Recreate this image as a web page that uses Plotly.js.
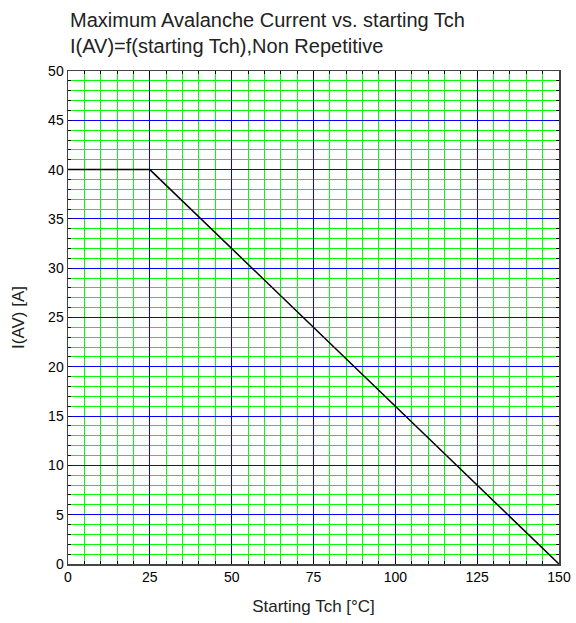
<!DOCTYPE html>
<html>
<head>
<meta charset="utf-8">
<script src="https://cdn.plot.ly/plotly-3.0.1.min.js"></script>
<style>html,body{margin:0;padding:0;background:#fff;}#chart{width:576px;height:623px;}</style>
</head>
<body>
<div id="chart"></div>
<script>
const tch = [0, 25, 150];
const iav = [40, 40, 0];

const trace = {
  x: tch, y: iav, type: 'scatter', mode: 'lines',
  line: {color: '#000000', width: 1.5}, hoverinfo: 'skip'
};

const fontFam = '"Liberation Sans", Arial, sans-serif';
const layout = {
  width: 576, height: 623,
  margin: {l: 68, r: 17, t: 71, b: 59},
  paper_bgcolor: '#ffffff', plot_bgcolor: '#ffffff',
  showlegend: false,
  font: {family: fontFam, color: '#000000'},
  title: {
    text: 'Maximum Avalanche Current vs. starting Tch<br>I(AV)=f(starting Tch),Non Repetitive',
    font: {family: fontFam, size: 20, color: '#222222'},
    x: 70/576, xanchor: 'left', xref: 'container',
    y: 1 - 27/623, yanchor: 'middle', yref: 'container'
  },
  xaxis: {
    range: [0, 150], dtick: 25, tick0: 0,
    showgrid: true, gridcolor: '#0000ff', gridwidth: 1,
    minor: {dtick: 5, tick0: 0, showgrid: true, gridcolor: '#00ff00', gridwidth: 1, ticks: 'inside', ticklen: 3, tickcolor: '#000'},
    ticks: 'inside', ticklen: 3, tickcolor: '#000',
    showline: true, linecolor: '#444444', linewidth: 1.5, mirror: 'ticks',
    zeroline: false,
    tickfont: {family: fontFam, size: 14, color: '#000'},
    title: {text: 'Starting Tch [°C]', font: {family: fontFam, size: 17, color: '#222'}, standoff: 16}
  },
  yaxis: {
    range: [0, 50], dtick: 5, tick0: 0,
    showgrid: true, gridcolor: '#0000ff', gridwidth: 1,
    minor: {dtick: 1, tick0: 0, showgrid: true, gridcolor: '#00ff00', gridwidth: 1, ticks: 'inside', ticklen: 3, tickcolor: '#000'},
    ticks: 'inside', ticklen: 3, tickcolor: '#000',
    showline: true, linecolor: '#444444', linewidth: 1.5, mirror: 'ticks',
    zeroline: false,
    tickfont: {family: fontFam, size: 14, color: '#000'},
    title: {text: 'I(AV) [A]', font: {family: fontFam, size: 17, color: '#222'}, standoff: 19}
  }
};

Plotly.newPlot('chart', [trace], layout, {staticPlot: true, displayModeBar: false});
</script>
</body>
</html>
